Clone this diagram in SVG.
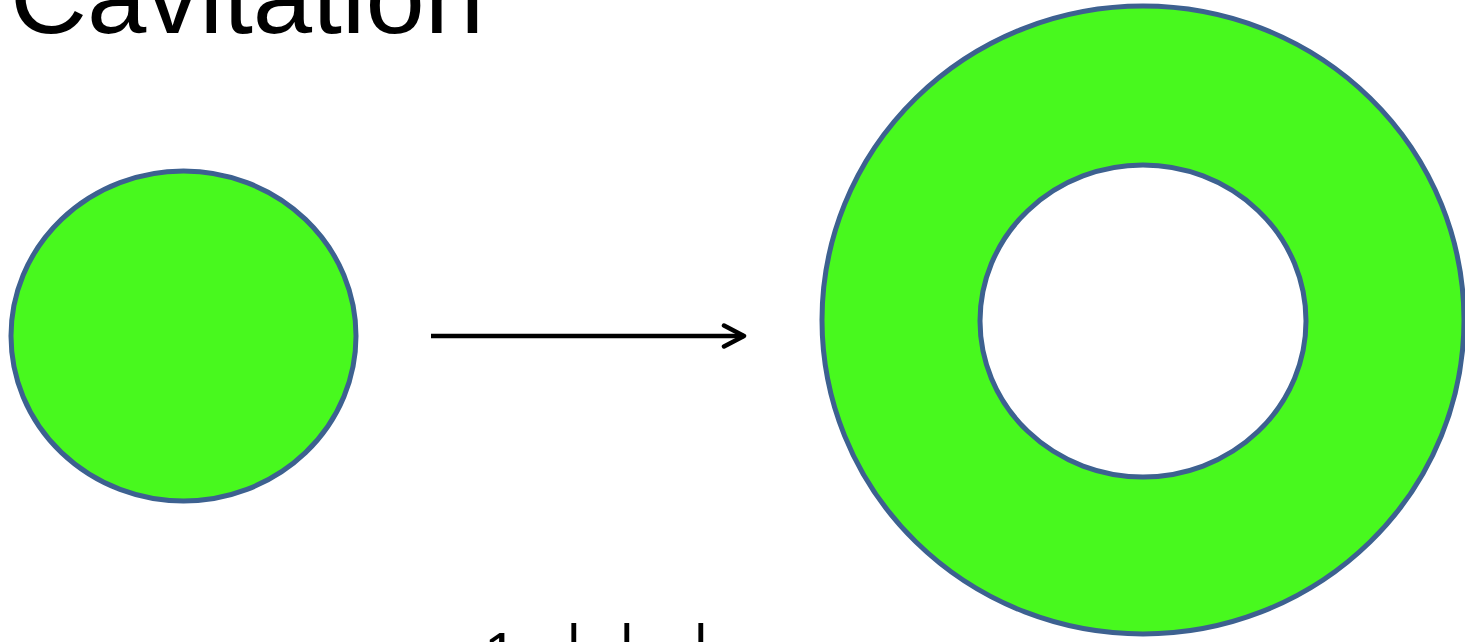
<svg xmlns="http://www.w3.org/2000/svg" width="1465" height="642" viewBox="0 0 1465 642">
<style>
.shape{fill:#48F91E;stroke:#3D6190;stroke-width:5}
.title{font-family:"Liberation Sans",Arial,sans-serif;font-size:104px;fill:#000}
.formula{font-family:"Liberation Sans",Arial,sans-serif;font-size:60px;fill:#000}
.conn{stroke:#000;stroke-width:4.5;fill:none}
</style>
<defs>
<marker id="arrow" viewBox="0 0 26 26" refX="23" refY="13" markerWidth="26" markerHeight="26" orient="auto" markerUnits="userSpaceOnUse">
<path d="M3,2.5 L23,13 L3,23.5" fill="none" stroke="#000" stroke-width="4.5" stroke-linecap="round" stroke-linejoin="round"/>
</marker>
</defs>
<rect width="1465" height="642" fill="#fff"/>
<text class="title" x="10" y="33" textLength="474" lengthAdjust="spacingAndGlyphs">Cavitation</text>
<g id="small-sphere">
<ellipse class="shape" cx="183.5" cy="336" rx="172.5" ry="165"/>
</g>
<g id="cavity">
<path class="shape" fill-rule="evenodd" d="M822,320 a321,314 0 1,0 642,0 a321,314 0 1,0 -642,0 Z M980,321 a163,156 0 1,0 326,0 a163,156 0 1,0 -326,0 Z"/>
</g>
<g id="connectors">
<line class="conn" x1="431" y1="336" x2="744" y2="336" marker-end="url(#arrow)"/>
</g>
<g id="formula">
<text class="formula" x="484" y="674">1</text>
<text class="formula" x="566" y="666">|</text>
<text class="formula" x="619" y="666">|</text>
<text class="formula" x="693" y="666">|</text>
</g>
</svg>
